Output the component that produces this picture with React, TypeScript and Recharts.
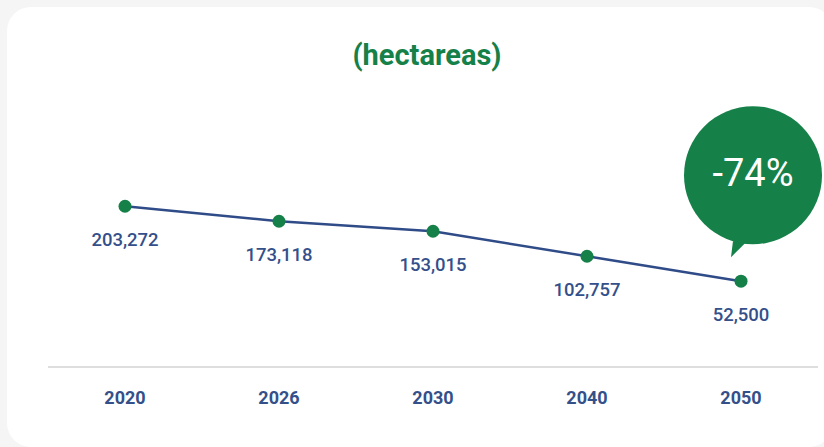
import React from "react";
import { LineChart, Line, XAxis, YAxis, LabelList } from "recharts";

// years on the x axis and hectares per year
const years = ["2020", "2026", "2030", "2040", "2050"];
const hectares = [203272, 173118, 153015, 102757, 52500];

const data = years.map((year, i) => ({ year, value: hectares[i] }));

const GREEN = "#168049";
const BLUE = "#34508a";

const change = Math.round(((hectares[hectares.length - 1] - hectares[0]) / hectares[0]) * 100);

const PointLabel = (props: any) => {
  const { x, y, value, index } = props;
  const label = (
    <text
      x={x}
      y={y + 35}
      textAnchor="middle"
      dominantBaseline="middle"
      fill={BLUE}
      fontSize={18.5}
      fontWeight={500}
      fontFamily="Roboto, sans-serif"
    >
      {Number(value).toLocaleString("en-US")}
    </text>
  );
  if (index !== hectares.length - 1) return label;
  // speech bubble above the last point
  const cx = x + 12;
  const cy = y - 106;
  return (
    <g>
      {label}
      <path d={`M ${x - 8} ${y - 40} L ${x - 10} ${y - 24} L ${x + 8} ${y - 42} Z`} fill={GREEN} />
      <circle cx={cx} cy={cy} r={69} fill={GREEN} />
      <text
        x={cx}
        y={cy + 1}
        textAnchor="middle"
        dominantBaseline="middle"
        fill="#fff"
        fontSize={38}
        fontFamily="Roboto, sans-serif"
      >
        {`${change}%`}
      </text>
    </g>
  );
};

const App: React.FC = () => {
  return (
    <div style={{ position: "absolute", left: 0, top: 0, width: 824, height: 447, background: "#f5f5f5", overflow: "hidden" }}>
      <div style={{ position: "absolute", left: 7, top: 7, width: 826, height: 440, background: "#fff", borderRadius: 24 }} />
      <div
        style={{
          position: "absolute",
          left: 0,
          top: 37,
          width: 854,
          textAlign: "center",
          color: GREEN,
          fontFamily: "Roboto, sans-serif",
          fontWeight: 700,
          fontSize: 29,
          lineHeight: "36px",
        }}
      >
        (hectareas)
      </div>
      <div style={{ position: "absolute", left: 0, top: 0 }}>
        <LineChart width={824} height={447} data={data} margin={{ top: 183, right: 6, bottom: 50, left: 48 }}>
          <XAxis
            dataKey="year"
            height={30}
            padding={{ left: 77, right: 77 }}
            axisLine={{ stroke: "#dedede", strokeWidth: 2 }}
            tickLine={false}
            tickMargin={18}
            tick={{ fill: BLUE, fontSize: 18, fontWeight: 700, fontFamily: "Roboto, sans-serif" }}
          />
          <YAxis hide domain={[-120000, 250000]} />
          <Line
            type="linear"
            dataKey="value"
            stroke="#2f4b88"
            strokeWidth={2.5}
            dot={{ r: 6.5, fill: GREEN, stroke: "none" }}
            activeDot={false}
            isAnimationActive={false}
          >
            <LabelList dataKey="value" content={PointLabel} />
          </Line>
        </LineChart>
      </div>
    </div>
  );
};

export default App;
